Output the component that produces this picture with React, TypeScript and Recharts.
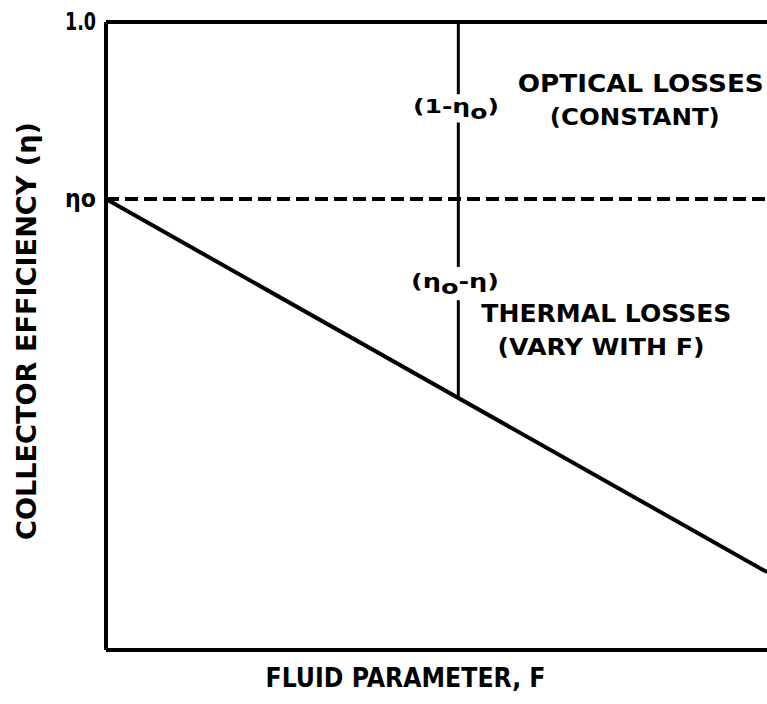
import React from "react"
import { LineChart, Line, XAxis, YAxis, ReferenceLine, ReferenceDot, Label } from "recharts"

const F_VALUES = [0, 1]
const ETA_VALUES = [0.718, 0.124]
const ETA0 = 0.718
const Y_TICKS = [ETA0, 1.0]
const Y_TICK_LABELS = ["ηo", "1.0"]
const LOSS_F = 0.533 // where the loss bracket is drawn

const data = F_VALUES.map((f, i) => ({ F: f, eta: ETA_VALUES[i] }))

// eta on the straight line at a given F
const etaAt = (f: number) =>
  ETA_VALUES[0] + ((ETA_VALUES[1] - ETA_VALUES[0]) * (f - F_VALUES[0])) / (F_VALUES[1] - F_VALUES[0])

const FONT = "'DejaVu Sans', 'Liberation Sans', sans-serif"

// vertical bracket broken where the small labels sit
const bracket = [
  [1, 0.885],
  [0.84, 0.61],
  [0.557, etaAt(LOSS_F)],
]

const notes = [
  { f: 0.5295, eta: 0.866, text: "(1-η", sub: "o", tail: ")", size: 20, len: 86 },
  { f: 0.809, eta: 0.901, text: "OPTICAL LOSSES", size: 24, len: 246 },
  { f: 0.8, eta: 0.849, text: "(CONSTANT)", size: 23, len: 170 },
  { f: 0.528, eta: 0.588, text: "(η", sub: "o", tail: "-η)", size: 20, len: 88 },
  { f: 0.757, eta: 0.535, text: "THERMAL LOSSES", size: 24, len: 250 },
  { f: 0.749, eta: 0.482, text: "(VARY WITH F)", size: 23, len: 207 },
]

function noteContent(n: any) {
  return (props: any) => {
    const { x, y } = props.viewBox
    return (
      <text
        x={x}
        y={y}
        textAnchor="middle"
        dominantBaseline="central"
        fontFamily={FONT}
        fontWeight={700}
        fontSize={n.size}
        fill="#000"
        textLength={n.len}
        lengthAdjust="spacingAndGlyphs"
      >
        {n.text}
        {n.sub && <tspan dy={6}>{n.sub}</tspan>}
        {n.tail && <tspan dy={-6}>{n.tail}</tspan>}
      </text>
    )
  }
}

function YTick(props: any) {
  const { x, y, payload } = props
  const label = Y_TICK_LABELS[Y_TICKS.indexOf(payload.value)]
  return (
    <text
      x={x - 2}
      y={y}
      textAnchor="end"
      dominantBaseline="central"
      fontFamily={FONT}
      fontWeight={700}
      fontSize={24}
      textLength={31}
      lengthAdjust="spacingAndGlyphs"
      fill="#000"
    >
      {label}
    </text>
  )
}

export default function App() {
  return (
    <div style={{ position: "absolute", left: 0, top: 0, width: 767, height: 704, background: "#fff" }}>
      <LineChart width={767} height={704} data={data} margin={{ top: 22, right: 0, left: 0, bottom: 0 }}>
        <XAxis
          dataKey="F"
          type="number"
          domain={[0, 1]}
          tick={false}
          tickLine={false}
          height={54}
          axisLine={{ stroke: "#000", strokeWidth: 4 }}
        >
          <Label
            content={(props: any) => {
              const { x, y, width } = props.viewBox
              return (
                <text
                  x={x + width / 2 - 31}
                  y={y + 28}
                  textAnchor="middle"
                  dominantBaseline="central"
                  fontFamily={FONT}
                  fontWeight={700}
                  fontSize={26}
                  textLength={280}
                  lengthAdjust="spacingAndGlyphs"
                  fill="#000"
                >
                  FLUID PARAMETER, F
                </text>
              )
            }}
          />
        </XAxis>
        <YAxis
          type="number"
          domain={[0, 1]}
          ticks={Y_TICKS}
          width={106}
          tickLine={false}
          tick={<YTick />}
          axisLine={{ stroke: "#000", strokeWidth: 4 }}
        >
          <Label
            content={(props: any) => {
              const { y, height } = props.viewBox
              const cy = y + height / 2 - 5
              return (
                <text
                  x={27}
                  y={cy}
                  transform={`rotate(-90 27 ${cy})`}
                  textAnchor="middle"
                  dominantBaseline="central"
                  fontFamily={FONT}
                  fontWeight={700}
                  fontSize={26}
                  textLength={418}
                  lengthAdjust="spacingAndGlyphs"
                  fill="#000"
                >
                  COLLECTOR EFFICIENCY (η)
                </text>
              )
            }}
          />
        </YAxis>
        <ReferenceLine y={1} stroke="#000" strokeWidth={4} />
        <ReferenceLine y={ETA0} stroke="#000" strokeWidth={4} strokeDasharray="13 6" />
        {bracket.map(([a, b], i) => (
          <ReferenceLine
            key={i}
            segment={[
              { x: LOSS_F, y: a },
              { x: LOSS_F, y: b },
            ]}
            stroke="#000"
            strokeWidth={3}
          />
        ))}
        <Line
          type="linear"
          dataKey="eta"
          stroke="#000"
          strokeWidth={4}
          dot={false}
          isAnimationActive={false}
        />
        {notes.map((n, i) => (
          <ReferenceDot
            key={i}
            x={n.f}
            y={n.eta}
            r={0}
            fill="none"
            stroke="none"
            label={{ content: noteContent(n) }}
          />
        ))}
      </LineChart>
    </div>
  )
}
